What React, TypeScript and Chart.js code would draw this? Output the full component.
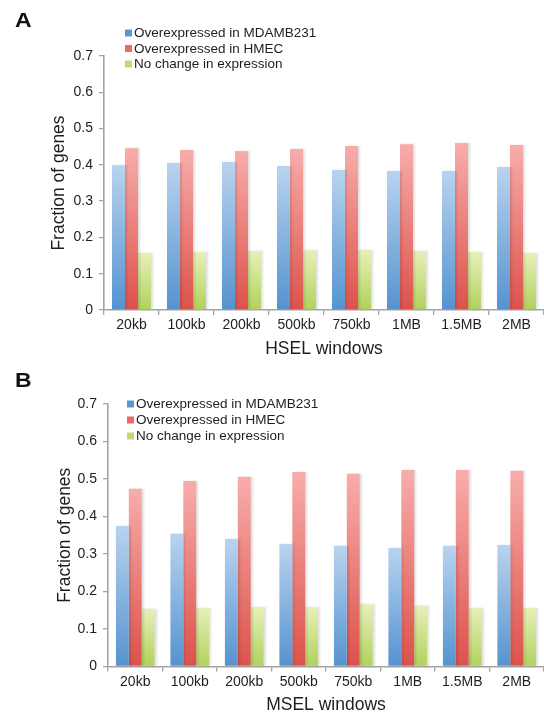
import React, { useEffect, useRef } from "react";
import { Chart, registerables } from "chart.js";

Chart.register(...registerables);

// Window sizes on the x axis
const windows = ["20kb", "100kb", "200kb", "500kb", "750kb", "1MB", "1.5MB", "2MB"];
const seriesLabels = [
  "Overexpressed in MDAMB231",
  "Overexpressed in HMEC",
  "No change in expression",
];

// Panel A: HSEL windows
const hselMDAMB231 = [0.399, 0.405, 0.408, 0.397, 0.386, 0.383, 0.383, 0.394];
const hselHMEC = [0.446, 0.441, 0.438, 0.444, 0.452, 0.457, 0.46, 0.455];
const hselNoChange = [0.157, 0.16, 0.163, 0.165, 0.165, 0.163, 0.16, 0.157];

// Panel B: MSEL windows
const mselMDAMB231 = [0.375, 0.354, 0.34, 0.327, 0.322, 0.316, 0.322, 0.324];
const mselHMEC = [0.474, 0.495, 0.506, 0.519, 0.514, 0.524, 0.524, 0.522];
const mselNoChange = [0.154, 0.156, 0.159, 0.159, 0.167, 0.162, 0.156, 0.156];

const yMax = 0.7;
const yStep = 0.1;

const FONT = "'Liberation Sans', Arial, Helvetica, sans-serif";
const TEXT = "#1e1e1e";
const AXIS = "#a3a3a3";

// light top / dark bottom per series, plus the legend swatch colour
const palette = [
  { top: "#b9d3ef", bottom: "#5593cf", swatch: "#5b96d3" },
  { top: "#f8adab", bottom: "#dc524b", swatch: "#ec6a66" },
  { top: "#e8f0b9", bottom: "#b0d25b", swatch: "#bfdb78" },
];

function barGradient(c: any, idx: number) {
  const chart = c.chart;
  const y = chart.scales && chart.scales.y;
  const p = palette[idx];
  if (!y || c.parsed == null) return p.bottom;
  const top = y.getPixelForValue(c.parsed.y);
  const base = y.getPixelForValue(0);
  if (!isFinite(top) || !isFinite(base) || base - top < 1) return p.bottom;
  const g = chart.ctx.createLinearGradient(0, top, 0, base);
  g.addColorStop(0, p.top);
  g.addColorStop(1, p.bottom);
  return g;
}

const barShadow = {
  id: "barShadow",
  beforeDatasetsDraw(chart: any) {
    const ctx = chart.ctx;
    ctx.save();
    ctx.shadowColor = "rgba(0,0,0,0.12)";
    ctx.shadowOffsetX = 2;
    ctx.shadowOffsetY = 0;
    ctx.shadowBlur = 2;
  },
  afterDatasetsDraw(chart: any) {
    chart.ctx.restore();
  },
};

const seriesKey = {
  id: "seriesKey",
  afterDraw(chart: any, _args: any, opts: any) {
    const ctx = chart.ctx;
    ctx.save();
    ctx.font = `13.5px ${FONT}`;
    ctx.textBaseline = "middle";
    ctx.textAlign = "left";
    chart.data.datasets.forEach((ds: any, i: number) => {
      const cy = opts.y + i * opts.gap;
      ctx.fillStyle = palette[i].swatch;
      ctx.fillRect(opts.x, cy - 3.5, 7, 7);
      ctx.fillStyle = TEXT;
      ctx.fillText(ds.label, opts.x + 9, cy + 0.5);
    });
    ctx.restore();
  },
};

type PanelProps = {
  letter: string;
  letterTop: number;
  top: number;
  height: number;
  areaTop: number;
  areaLeft: number;
  areaBottom: number;
  xTitle: string;
  yTitleX: number;
  xTitleFromBottom: number;
  legendX: number;
  legendY: number;
  legendGap: number;
  series: number[][];
};

function Panel(props: PanelProps) {
  const ref = useRef<HTMLCanvasElement | null>(null);
  const width = 544;

  useEffect(() => {
    if (!ref.current) return;
    const titleFont = { family: FONT, size: 17.5, lineHeight: 1.2 };
    const chart = new Chart(ref.current, {
      type: "bar",
      data: {
        labels: windows,
        datasets: props.series.map((vals, i) => ({
          label: seriesLabels[i],
          data: vals,
          backgroundColor: (c: any) => barGradient(c, i),
          borderWidth: 0,
          barPercentage: 1,
          categoryPercentage: 0.71,
        })),
      },
      options: {
        responsive: false,
        animation: false,
        events: [],
        layout: { padding: { top: props.areaTop, left: 0, right: 0, bottom: 0 } },
        plugins: {
          legend: { display: false },
          tooltip: { enabled: false },
          seriesKey: { x: props.legendX, y: props.legendY, gap: props.legendGap },
        } as any,
        scales: {
          x: {
            grid: {
              display: true,
              drawOnChartArea: false,
              drawTicks: true,
              tickLength: 5,
              color: AXIS,
              lineWidth: 1.3,
              offset: true,
            },
            border: { display: true, color: AXIS, width: 1.6 },
            ticks: {
              color: TEXT,
              font: { family: FONT, size: 14 },
              padding: 2,
              maxRotation: 0,
              autoSkip: false,
            },
            title: {
              display: true,
              text: props.xTitle,
              color: TEXT,
              font: titleFont,
              padding: { top: 0, bottom: props.xTitleFromBottom - 10.5 },
            },
            afterFit: (s: any) => {
              s.height = props.height - props.areaBottom;
            },
          },
          y: {
            min: 0,
            max: yMax,
            grid: {
              display: true,
              drawOnChartArea: false,
              drawTicks: true,
              tickLength: 5,
              color: AXIS,
              lineWidth: 1.3,
            },
            border: { display: true, color: AXIS, width: 1.6 },
            ticks: {
              stepSize: yStep,
              color: TEXT,
              font: { family: FONT, size: 14 },
              padding: 6,
              callback: (v: any) => (Math.abs(v) < 1e-9 ? "0" : Number(v).toFixed(1)),
            },
            title: {
              display: true,
              text: "Fraction of genes",
              color: TEXT,
              font: titleFont,
              padding: { top: props.yTitleX - 10.5, bottom: 0 },
            },
            afterFit: (s: any) => {
              s.width = props.areaLeft;
            },
          },
        },
      },
      plugins: [barShadow, seriesKey],
    });
    return () => chart.destroy();
  }, []);

  return (
    <div style={{ position: "absolute", left: 0, top: props.top, width, height: props.height }}>
      <canvas
        ref={ref}
        width={width}
        height={props.height}
        style={{ display: "block", width, height: props.height }}
      />
      <div
        style={{
          position: "absolute",
          left: 15,
          top: props.letterTop,
          font: `bold 20px ${FONT}`,
          color: "#111",
          lineHeight: "22px",
          transform: "scaleX(1.15)",
          transformOrigin: "left top",
        }}
      >
        {props.letter}
      </div>
    </div>
  );
}

export default function App() {
  return (
    <div style={{ position: "absolute", left: 0, top: 0, width: 544, height: 717, background: "#fff" }}>
      <Panel
        letter="A"
        letterTop={8.5}
        top={0}
        height={362}
        areaTop={56}
        areaLeft={104}
        areaBottom={310}
        xTitle="HSEL windows"
        yTitleX={59}
        xTitleFromBottom={13}
        legendX={125}
        legendY={33}
        legendGap={15.5}
        series={[hselMDAMB231, hselHMEC, hselNoChange]}
      />
      <Panel
        letter="B"
        letterTop={2.5}
        top={366}
        height={351}
        areaTop={38}
        areaLeft={108}
        areaBottom={300.5}
        xTitle="MSEL windows"
        yTitleX={65}
        xTitleFromBottom={12}
        legendX={127}
        legendY={38}
        legendGap={16}
        series={[mselMDAMB231, mselHMEC, mselNoChange]}
      />
    </div>
  );
}
